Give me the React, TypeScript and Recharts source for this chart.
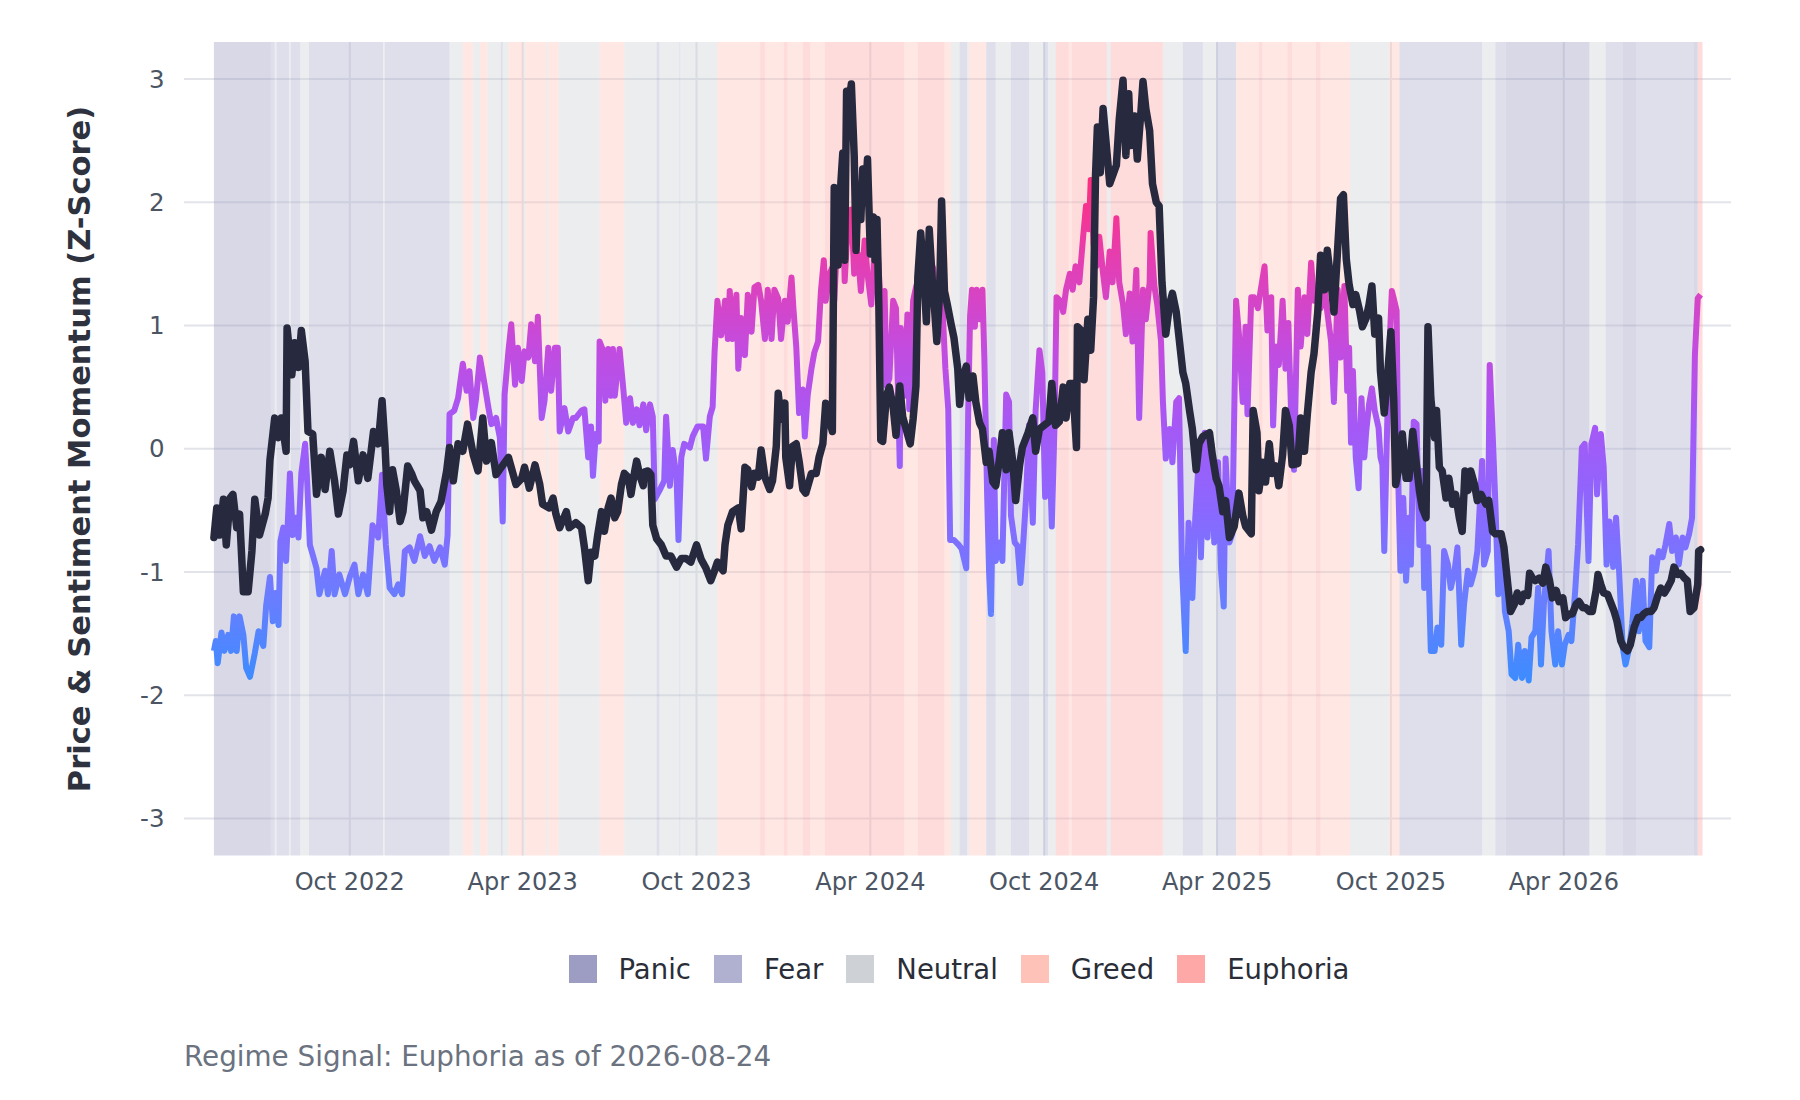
import React from 'react';
import { LineChart, Line, XAxis, YAxis, CartesianGrid, ReferenceArea } from 'recharts';

const START_UTC = Date.UTC(2022, 4, 11);
const DAY_MS = 86400000;
const MONTHS = ['Jan', 'Feb', 'Mar', 'Apr', 'May', 'Jun', 'Jul', 'Aug', 'Sep', 'Oct', 'Nov', 'Dec'];

const xTickDates = ['2022-10-01', '2023-04-01', '2023-10-01', '2024-04-01', '2024-10-01', '2025-04-01', '2025-10-01', '2026-04-01'];
const yTicks = [-3, -2, -1, 0, 1, 2, 3];

const regimeNames = ['Panic', 'Fear', 'Neutral', 'Greed', 'Euphoria'];
const regimeColors = ['#9d9dc4', '#b0b0d0', '#ced2d6', '#ffc2b8', '#ffa8a8'];

// regime bands: start day (days since 2022-05-11) and regime index (0 Panic .. 4 Euphoria)
const bandStartDays = [0, 60, 64, 66, 79, 81, 91, 100, 178, 180, 248, 262, 273, 280, 288, 302, 304, 310, 326, 328, 350, 352, 363, 406, 432, 466, 469, 490, 491, 530, 575, 580, 600, 604, 620, 628, 643, 727, 741, 769, 776, 785, 793, 795, 813, 823, 839, 858, 873, 878, 886, 900, 903, 940, 944, 999, 1020, 1041, 1055, 1076, 1100, 1104, 1130, 1135, 1160, 1165, 1196, 1237, 1248, 1335, 1349, 1360, 1448, 1465, 1483, 1497, 1558, 1562];
const bandRegimes = [0, 1, 2, 1, 2, 1, 2, 1, 2, 1, 2, 3, 2, 3, 2, 1, 2, 3, 2, 3, 2, 3, 2, 3, 2, 1, 2, 1, 2, 3, 4, 3, 4, 3, 4, 3, 4, 3, 4, 3, 2, 1, 2, 3, 1, 2, 1, 2, 1, 2, 4, 3, 4, 2, 4, 2, 1, 2, 1, 3, 4, 3, 4, 3, 4, 3, 2, 3, 1, 2, 1, 0, 2, 1, 0, 1, 0, 4];
const bandEndDay = 1567;

const priceDays = [0, 3, 6, 10, 13, 17, 20, 24, 27, 31, 36, 40, 43, 48, 54, 57, 59, 64, 68, 71, 76, 77, 82, 85, 89, 92, 96, 99, 104, 108, 113, 117, 122, 127, 131, 136, 140, 143, 147, 152, 157, 162, 168, 173, 177, 180, 182, 185, 188, 192, 196, 199, 204, 208, 211, 217, 220, 224, 229, 234, 239, 245, 248, 252, 257, 262, 267, 273, 278, 283, 287, 292, 297, 310, 318, 324, 327, 332, 338, 343, 346, 353, 357, 360, 364, 371, 374, 381, 387, 390,
  394, 397, 401, 404, 408, 411, 415, 418, 422, 425, 429, 432, 436, 439, 443, 445, 448, 452, 453, 457, 460, 462, 466, 471, 476, 481, 487, 492, 497, 502, 508, 513, 518, 523, 527, 530, 536, 538, 541, 546, 552, 555, 559, 562, 566, 569, 573, 576, 580, 585, 588, 592, 594, 597, 601, 602, 606, 609, 613, 616, 620, 623, 629, 634, 637, 641, 644, 648, 651, 653, 655, 657, 660, 662, 664, 666, 668, 671, 674, 676, 678, 681, 683, 686, 688, 691, 694, 696, 698, 700, 702, 704, 708, 711, 715, 718, 722, 725, 729, 733, 736, 739, 741, 744, 747, 750, 753, 756, 758, 761, 764, 766, 769, 772, 776, 779, 783, 785, 788, 792, 795, 799,
  802, 806, 809, 813, 816, 820, 823, 827, 830, 834, 837, 841, 844, 848, 851, 857, 862, 865, 869, 874, 879, 882, 886, 890, 894, 897, 901, 904, 908, 909, 913, 916, 920, 923, 926, 928, 930, 933, 936, 943, 950, 953, 957, 960, 963, 965, 969, 972, 976, 978, 981, 985, 988, 992, 995, 998, 1002, 1006, 1009, 1013, 1016, 1020, 1023, 1027, 1030, 1034, 1037, 1041, 1048, 1051, 1055, 1058, 1062, 1065, 1069, 1074, 1079, 1083, 1086, 1092, 1094, 1098, 1100, 1104, 1107, 1111, 1114, 1118, 1121, 1125, 1128, 1132, 1135, 1141, 1144, 1148, 1151, 1155, 1158, 1162, 1165, 1169, 1172, 1176, 1179, 1183, 1186, 1189, 1192,
  1195, 1199, 1202, 1206, 1209, 1213, 1216, 1219, 1222, 1226, 1228, 1232, 1235, 1239, 1242, 1244, 1248, 1251, 1255, 1258, 1262, 1265, 1269, 1272, 1276, 1278, 1281, 1285, 1287, 1290, 1293, 1297, 1300, 1304, 1307, 1311, 1314, 1317, 1320, 1323, 1327, 1330, 1334, 1339, 1342, 1346, 1349, 1355, 1358, 1362, 1365, 1369, 1372, 1376, 1379, 1383, 1385, 1388, 1391, 1395, 1399, 1402, 1406, 1409, 1413, 1416, 1420, 1423, 1427, 1430, 1434, 1437, 1441, 1444, 1448, 1451, 1455, 1457, 1460, 1463, 1467, 1470, 1474, 1477, 1481, 1484, 1488, 1491, 1495, 1499, 1502, 1505, 1509, 1513, 1516, 1520, 1523, 1527, 1530, 1534, 1537, 1541, 1544, 1548, 1551, 1554, 1558, 1562, 1563, 1565];
const priceValues = [-0.72, -0.48, -0.70, -0.41, -0.78, -0.40, -0.37, -0.64, -0.53, -1.16, -1.16, -0.83, -0.41, -0.70, -0.53, -0.40, -0.09, 0.25, 0.09, 0.25, -0.02, 0.98, 0.60, 0.86, 0.66, 0.96, 0.71, 0.14, 0.12, -0.37, -0.07, -0.33, -0.02, -0.26, -0.53, -0.34, -0.05, -0.13, 0.06, -0.26, -0.05, -0.24, 0.14, 0.04, 0.39, 0.04, -0.29, -0.51, -0.17, -0.34, -0.59, -0.51, -0.14, -0.20, -0.26, -0.34, -0.56, -0.51, -0.66, -0.51, -0.43, -0.18, 0.01, -0.26, 0.04, -0.02, 0.20, -0.05, -0.18, 0.25, -0.10, 0.05, -0.21, -0.07, -0.29, -0.24, -0.15, -0.32, -0.13, -0.29, -0.45, -0.48, -0.40, -0.53, -0.64, -0.51, -0.64, -0.60, -0.64, -0.80,
  -1.07, -0.84, -0.87, -0.70, -0.51, -0.67, -0.48, -0.40, -0.56, -0.51, -0.29, -0.20, -0.23, -0.37, -0.18, -0.10, -0.21, -0.30, -0.19, -0.18, -0.21, -0.62, -0.73, -0.78, -0.87, -0.87, -0.96, -0.89, -0.89, -0.92, -0.78, -0.90, -0.97, -1.07, -0.99, -0.92, -0.99, -0.78, -0.62, -0.51, -0.48, -0.65, -0.15, -0.17, -0.31, -0.20, -0.23, -0.01, -0.23, -0.33, -0.26, 0.02, 0.45, 0.24, 0.37, -0.07, -0.30, 0.02, 0.04, -0.10, -0.33, -0.36, -0.20, -0.20, -0.07, 0.04, 0.37, 0.24, 0.14, 2.12, 2.08, 1.49, 2.16, 2.40, 1.53, 2.90, 2.77, 2.96, 2.38, 1.61, 2.11, 1.86, 2.27, 2.08, 2.35, 1.58, 1.88, 1.53, 1.86, 1.14, 0.07, 0.06, 0.43, 0.50, 0.34, 0.11, 0.51, 0.26, 0.15, 0.04, 0.24, 0.51, 1.39, 1.75, 1.45, 1.03, 1.78, 1.39, 1.20, 0.87, 1.28, 2.01, 1.28, 1.17, 1.01, 0.90, 0.65, 0.36, 0.56, 0.67, 0.41, 0.59,
  0.38, 0.21, 0.16, -0.11, -0.02, -0.27, -0.30, -0.08, 0.13, -0.17, 0.13, -0.11, -0.42, -0.14, 0.01, 0.13, 0.25, -0.02, 0.16, 0.19, 0.22, 0.53, 0.19, 0.22, 0.50, 0.25, 0.53, 0.53, 0.01, 0.99, 0.96, 0.56, 1.05, 0.80, 1.23, 2.21, 2.61, 2.24, 2.76, 2.15, 2.30, 2.67, 2.99, 2.38, 2.88, 2.46, 2.70, 2.35, 2.75, 2.98, 2.76, 2.58, 2.15, 2.00, 1.97, 1.35, 0.93, 1.17, 1.26, 1.11, 0.90, 0.62, 0.53, 0.31, 0.16, -0.17, 0.04, 0.10, 0.13, -0.05, -0.24, -0.30, -0.51, -0.42, -0.72, -0.63, -0.36, -0.54, -0.63, -0.69, 0.31, 0.13, -0.34, -0.11, -0.27, 0.04, -0.20, -0.14, -0.30, -0.05, 0.31, 0.19, -0.13, -0.12, 0.25, -0.02, 0.28, 0.62, 0.77, 1.11, 1.57, 1.29, 1.61, 1.35, 1.11, 1.63, 2.03, 2.06, 1.54,
  1.33, 1.17, 1.25, 1.12, 0.99, 1.06, 1.17, 1.32, 0.93, 1.06, 0.63, 0.29, 0.55, 0.95, 0.39, -0.29, -0.13, 0.12, -0.24, -0.24, 0.14, -0.07, -0.34, -0.48, -0.56, 0.99, 0.41, 0.09, 0.31, -0.15, -0.18, -0.40, -0.24, -0.45, -0.37, -0.56, -0.67, -0.18, -0.34, -0.18, -0.29, -0.42, -0.37, -0.45, -0.42, -0.67, -0.69, -0.69, -0.80, -1.10, -1.32, -1.26, -1.17, -1.24, -1.18, -1.19, -1.01, -1.05, -1.07, -1.05, -1.09, -0.96, -1.07, -1.21, -1.15, -1.24, -1.21, -1.37, -1.34, -1.34, -1.26, -1.24, -1.29, -1.29, -1.32, -1.32, -1.15, -1.02, -1.10, -1.17, -1.18, -1.24, -1.32, -1.40, -1.56, -1.61, -1.64, -1.59, -1.45, -1.37, -1.37, -1.34, -1.32, -1.32, -1.29, -1.19, -1.13, -1.17, -1.13, -1.07, -0.96, -1.02, -1.01, -1.05, -1.07, -1.32, -1.29, -1.10, -0.83, -0.82];

const sentimentDays = [0, 2, 4, 8, 11, 15, 18, 21, 24, 27, 31, 34, 38, 43, 47, 52, 55, 59, 62, 65, 68, 70, 73, 76, 80, 83, 86, 89, 92, 96, 98, 101, 104, 108, 111, 117, 120, 124, 127, 132, 138, 143, 148, 152, 157, 162, 167, 173, 177, 181, 185, 190, 194, 198, 201, 206, 211, 217, 222, 227, 232, 238, 243, 246, 248, 253, 257, 262, 266, 269, 273, 276, 280, 285, 289, 292, 297, 301, 304, 306, 310, 313, 317, 320, 324, 327, 331, 334, 338, 341, 345, 348, 352, 355, 359, 362, 364, 369, 373, 378, 381, 387,
  390, 394, 397, 399, 402, 405, 406, 410, 412, 415, 418, 420, 422, 427, 431, 434, 438, 441, 445, 448, 452, 455, 459, 462, 464, 469, 474, 476, 480, 483, 487, 489, 492, 495, 501, 504, 509, 515, 518, 522, 525, 527, 530, 534, 538, 541, 543, 546, 550, 552, 555, 559, 562, 566, 569, 573, 576, 580, 583, 587, 590, 594, 597, 601, 604, 608, 610, 613, 616, 620, 622, 625, 629, 632, 636, 639, 642, 644, 648, 651, 653, 656, 660, 662, 664, 667, 671, 674, 678, 681, 685, 688, 692, 695, 699, 702, 706, 708, 711, 715, 718, 722, 723, 727, 730, 732, 736, 739, 743, 746, 750, 753, 757, 760, 764, 767, 770, 773, 775, 779, 784, 787, 792, 794,
  796, 798, 801, 803, 806, 809, 811, 814, 816, 818, 821, 823, 827, 830, 834, 837, 839, 843, 846, 849, 851, 855, 858, 862, 865, 869, 872, 875, 879, 882, 885, 887, 891, 894, 897, 901, 904, 907, 911, 915, 918, 921, 923, 926, 929, 932, 936, 939, 943, 946, 950, 953, 957, 960, 964, 967, 971, 974, 978, 981, 985, 986, 990, 993, 997, 999, 1002, 1006, 1009, 1013, 1016, 1019, 1023, 1026, 1030, 1033, 1037, 1039, 1043, 1046, 1050, 1053, 1057, 1060, 1063, 1065, 1069, 1072, 1076, 1079, 1083, 1086, 1088, 1092, 1095, 1099, 1102, 1106, 1109, 1113, 1115, 1118, 1121, 1125, 1128, 1131, 1134, 1137, 1141, 1144, 1148, 1151, 1155, 1158, 1162, 1165, 1169, 1172, 1176, 1179, 1183, 1186, 1190, 1193,
  1195, 1197, 1199, 1202, 1205, 1208, 1211, 1213, 1216, 1219, 1222, 1226, 1228, 1230, 1232, 1235, 1237, 1240, 1242, 1245, 1247, 1249, 1252, 1255, 1258, 1260, 1263, 1266, 1269, 1272, 1274, 1278, 1281, 1285, 1288, 1292, 1295, 1299, 1302, 1306, 1309, 1313, 1316, 1320, 1323, 1327, 1330, 1335, 1337, 1341, 1343, 1346, 1349, 1352, 1356, 1359, 1363, 1366, 1370, 1373, 1377, 1380, 1384, 1387, 1391, 1394, 1397, 1400, 1405, 1408, 1412, 1415, 1419, 1422, 1426, 1429, 1433, 1436, 1440, 1443, 1447, 1450, 1454, 1456, 1460, 1463, 1466, 1469, 1473, 1476, 1479, 1483, 1486, 1490, 1493, 1497, 1500, 1504, 1507, 1511, 1514, 1518, 1521, 1525, 1528, 1532, 1535, 1539, 1542, 1546, 1549, 1553, 1556, 1559, 1562, 1565];
const sentimentValues = [-1.64, -1.56, -1.74, -1.49, -1.64, -1.51, -1.64, -1.36, -1.64, -1.36, -1.51, -1.78, -1.85, -1.66, -1.48, -1.60, -1.27, -1.04, -1.40, -1.17, -1.43, -0.75, -0.64, -0.91, -0.20, -0.70, -0.56, -0.72, -0.20, 0.04, -0.24, -0.78, -0.86, -0.97, -1.18, -0.99, -1.18, -0.83, -1.18, -1.02, -1.18, -1.04, -0.94, -1.18, -1.02, -1.18, -0.62, -0.72, -0.21, -0.78, -1.13, -1.18, -1.10, -1.18, -0.83, -0.80, -0.91, -0.71, -0.87, -0.79, -0.91, -0.80, -0.94, -0.70, 0.28, 0.31, 0.41, 0.69, 0.47, 0.63, 0.25, 0.41, 0.74, 0.52, 0.33, 0.20, 0.25, 0.09, -0.59, 0.44, 0.79, 1.01, 0.52, 0.82, 0.55, 0.79, 0.74, 1.01, 0.71, 1.07, 0.25, 0.39, 0.82, 0.47, 0.82, 0.82, 0.14, 0.33, 0.14, 0.25, 0.25, 0.31,
  0.32, -0.07, 0.18, -0.22, 0.12, 0.06, 0.87, 0.79, 0.39, 0.81, 0.43, 0.81, 0.43, 0.81, 0.48, 0.21, 0.41, 0.21, 0.32, 0.19, 0.36, 0.15, 0.36, 0.26, -0.41, -0.34, -0.26, 0.26, -0.30, -0.01, -0.23, -0.74, -0.07, 0.04, 0.01, 0.10, 0.18, 0.18, -0.08, 0.26, 0.34, 0.78, 1.20, 0.92, 1.20, 0.89, 1.28, 0.89, 1.25, 0.65, 1.06, 0.76, 1.25, 0.95, 1.31, 1.33, 1.20, 0.89, 1.29, 0.89, 1.29, 1.22, 0.89, 1.20, 1.03, 1.39, 1.14, 0.83, 0.29, 0.48, 0.10, 0.43, 0.65, 0.78, 0.87, 1.28, 1.53, 1.20, 1.42, 1.47, 1.20, 1.67, 1.58, 2.02, 1.36, 1.78, 1.94, 1.42, 1.58, 1.28, 1.69, 1.42, 1.17, 1.53, 1.57, 1.14, 1.28, 0.51, 0.57, 1.20, 1.14, -0.14, 0.98, 0.43, 1.09, 0.32, 1.20, 1.31, 1.42, 1.36, 1.21, 1.31, 1.47, 1.20, 1.28, 1.14, 0.65, 0.32, -0.74, -0.74, -0.78, -0.81, -0.97, 0.29,
  1.08, 1.29, 0.99, 1.29, 1.05, 1.29, 0.74, -0.39, -1.00, -1.34, 0.07, -0.91, -0.76, -0.91, 0.44, 0.38, -0.54, -0.76, -0.79, -1.09, -0.88, -0.39, 0.19, -0.60, 0.31, 0.80, 0.62, -0.39, 0.19, -0.63, 0.22, 1.23, 1.20, 1.11, 1.29, 1.42, 1.29, 1.48, 1.35, 1.72, 1.97, 1.78, 2.18, 1.66, 1.48, 1.72, 1.42, 1.23, 1.60, 1.35, 1.87, 1.35, 1.17, 0.93, 1.26, 0.87, 1.45, 0.25, 1.29, 1.05, 1.35, 1.75, 1.32, 1.17, 0.87, 0.38, -0.08, 0.16, -0.11, 0.38, 0.41, -0.94, -1.64, -0.60, -1.21, -0.57, -0.05, -0.88, 0.13, -0.72, 0.04, -0.76, -0.11, -0.97, -1.28, -0.08, -0.76, -0.69, 1.20, 0.93, 0.38, 0.99, 0.28, 1.23, 1.23, 1.14, 1.29, 1.48, 0.96, 1.23, 0.19, 0.83, 0.68, 1.20, 0.65, 1.02, 0.28, -0.17, 1.29, 0.83, 1.23, 0.93, 1.51, 1.20, 1.29, 1.14, 1.32, 1.11, 0.87, 0.38, 1.29, 0.74, 1.32, 0.47,
  0.82, 0.05, 0.63, -0.07, -0.32, 0.41, -0.07, 0.14, 0.36, 0.49, 0.31, 0.17, -0.07, -0.13, -0.83, 0.17, 0.74, 1.28, 1.22, 1.12, -0.34, -0.99, -0.40, -1.07, -0.56, -0.94, 0.22, 0.20, -0.78, -0.18, -1.13, -0.80, -1.64, -1.64, -1.45, -1.59, -0.83, -0.94, -1.13, -0.99, -0.80, -1.59, -1.26, -0.99, -1.10, -0.99, -0.83, -0.10, -0.94, -0.83, 0.68, 0.14, -0.45, -1.18, -0.80, -1.32, -1.48, -1.83, -1.86, -1.59, -1.86, -1.64, -1.88, -1.53, -1.48, -1.13, -1.75, -1.26, -0.83, -1.48, -1.75, -1.48, -1.75, -1.59, -1.51, -1.56, -1.15, -0.78, 0.01, 0.04, -0.91, 0.04, 0.17, -0.37, 0.12, -0.15, -0.94, -0.59, -0.96, -0.56, -0.96, -1.61, -1.75, -1.61, -1.42, -1.07, -1.48, -1.07, -1.56, -1.61, -0.88, -0.99, -0.83, -0.88, -0.78, -0.61, -0.83, -0.72, -0.94, -0.72, -0.80, -0.69, -0.56, 0.76, 1.22, 1.25];

const dayOf = (s: string) => (Date.parse(s) - START_UTC) / DAY_MS;
const xTicks = xTickDates.map(dayOf);
const fmtDay = (d: number) => {
  const dt = new Date(START_UTC + d * DAY_MS);
  return `${MONTHS[dt.getUTCMonth()]} ${dt.getUTCFullYear()}`;
};

const priceData = priceDays.map((d, i) => ({ day: d, v: priceValues[i] }));
const sentimentData = sentimentDays.map((d, i) => ({ day: d, v: sentimentValues[i] }));
const bands = bandStartDays.map((s, i) => ({
  x1: s,
  x2: i + 1 < bandStartDays.length ? bandStartDays[i + 1] : bandEndDay,
  r: bandRegimes[i],
}));

const sMax = Math.max(...sentimentValues);
const sMin = Math.min(...sentimentValues);
const gradStops: [number, string][] = [
  [2.2, '#ff2e7e'],
  [1.5, '#e33fb4'],
  [0.8, '#c24ce0'],
  [0.2, '#a658f5'],
  [-0.5, '#8a68ff'],
  [-1.2, '#6a7dff'],
  [-1.9, '#3d8cff'],
];
const offsetOf = (v: number) => Math.min(1, Math.max(0, (sMax - v) / (sMax - sMin)));

const FONT = '"DejaVu Sans", sans-serif';

export default function App() {
  return (
    <div style={{ position: 'absolute', left: 0, top: 0, width: 1800, height: 1100, background: '#ffffff', fontFamily: FONT }}>
      <LineChart
        width={1800}
        height={1100}
        margin={{ top: 42, right: 69, bottom: 204.5, left: 124 }}
        style={{ fontFamily: FONT }}
      >
        <defs>
          <linearGradient id="sentGrad" x1="0" y1="0" x2="0" y2="1">
            {gradStops.map(([v, c], i) => (
              <stop key={i} offset={offsetOf(v)} stopColor={c} />
            ))}
          </linearGradient>
        </defs>
        <CartesianGrid
          stroke="#e2e4ea"
          strokeWidth={2}
          vertical={true}
          horizontal={true}
          horizontalValues={yTicks}
          verticalValues={xTicks}
          syncWithTicks={false}
        />
        <XAxis
          dataKey="day"
          type="number"
          domain={[-31.5, 1597]}
          allowDataOverflow
          ticks={xTicks}
          interval={0}
          tickFormatter={fmtDay}
          axisLine={false}
          tickLine={false}
          tickSize={0}
          tickMargin={17.5}
          height={40}
          tick={{ fontSize: 24, fill: '#4b5563', fontFamily: FONT }}
        />
        <YAxis
          type="number"
          domain={[-3.3, 3.3]}
          allowDataOverflow
          ticks={yTicks}
          interval={0}
          axisLine={false}
          tickLine={false}
          tickSize={0}
          tickMargin={19.5}
          width={60}
          tick={{ fontSize: 24.5, fill: '#4b5563', fontFamily: FONT }}
        />
        {bands.map((b, i) => (
          <ReferenceArea
            key={i}
            x1={b.x1}
            x2={b.x2}
            fill={regimeColors[b.r]}
            fillOpacity={0.4}
            stroke="none"
            strokeWidth={0}
          />
        ))}
        <Line
          data={sentimentData}
          dataKey="v"
          type="linear"
          stroke="url(#sentGrad)"
          strokeWidth={6}
          dot={false}
          activeDot={false}
          isAnimationActive={false}
          strokeLinejoin="round"
        />
        <Line
          data={priceData}
          dataKey="v"
          type="linear"
          stroke="#272a3e"
          strokeWidth={7.5}
          dot={false}
          activeDot={false}
          isAnimationActive={false}
          strokeLinejoin="round"
          strokeLinecap="round"
        />
      </LineChart>

      <div
        style={{
          position: 'absolute',
          left: 80 - 450,
          top: 448.5 - 20,
          width: 900,
          height: 40,
          lineHeight: '40px',
          textAlign: 'center',
          transform: 'rotate(-90deg)',
          fontSize: 30.5,
          fontWeight: 'bold',
          color: '#2d323e',
          whiteSpace: 'nowrap',
        }}
      >
        Price &amp; Sentiment Momentum (Z-Score)
      </div>

      <div
        style={{
          position: 'absolute',
          left: 184,
          top: 955,
          width: 1550,
          height: 28,
          display: 'flex',
          justifyContent: 'center',
          alignItems: 'center',
        }}
      >
        {regimeNames.map((n, i) => (
          <div key={n} style={{ display: 'flex', alignItems: 'center', marginLeft: i === 0 ? 0 : 23 }}>
            <div style={{ width: 28, height: 28, background: regimeColors[i] }} />
            <span style={{ marginLeft: 22, fontSize: 27.5, lineHeight: '28px', color: '#2a2e38' }}>{n}</span>
          </div>
        ))}
      </div>

      <div
        style={{
          position: 'absolute',
          left: 184,
          top: 1043,
          fontSize: 27.8,
          lineHeight: '27px',
          color: '#6b7280',
          whiteSpace: 'nowrap',
        }}
      >
        Regime Signal: Euphoria as of 2026-08-24
      </div>
    </div>
  );
}
